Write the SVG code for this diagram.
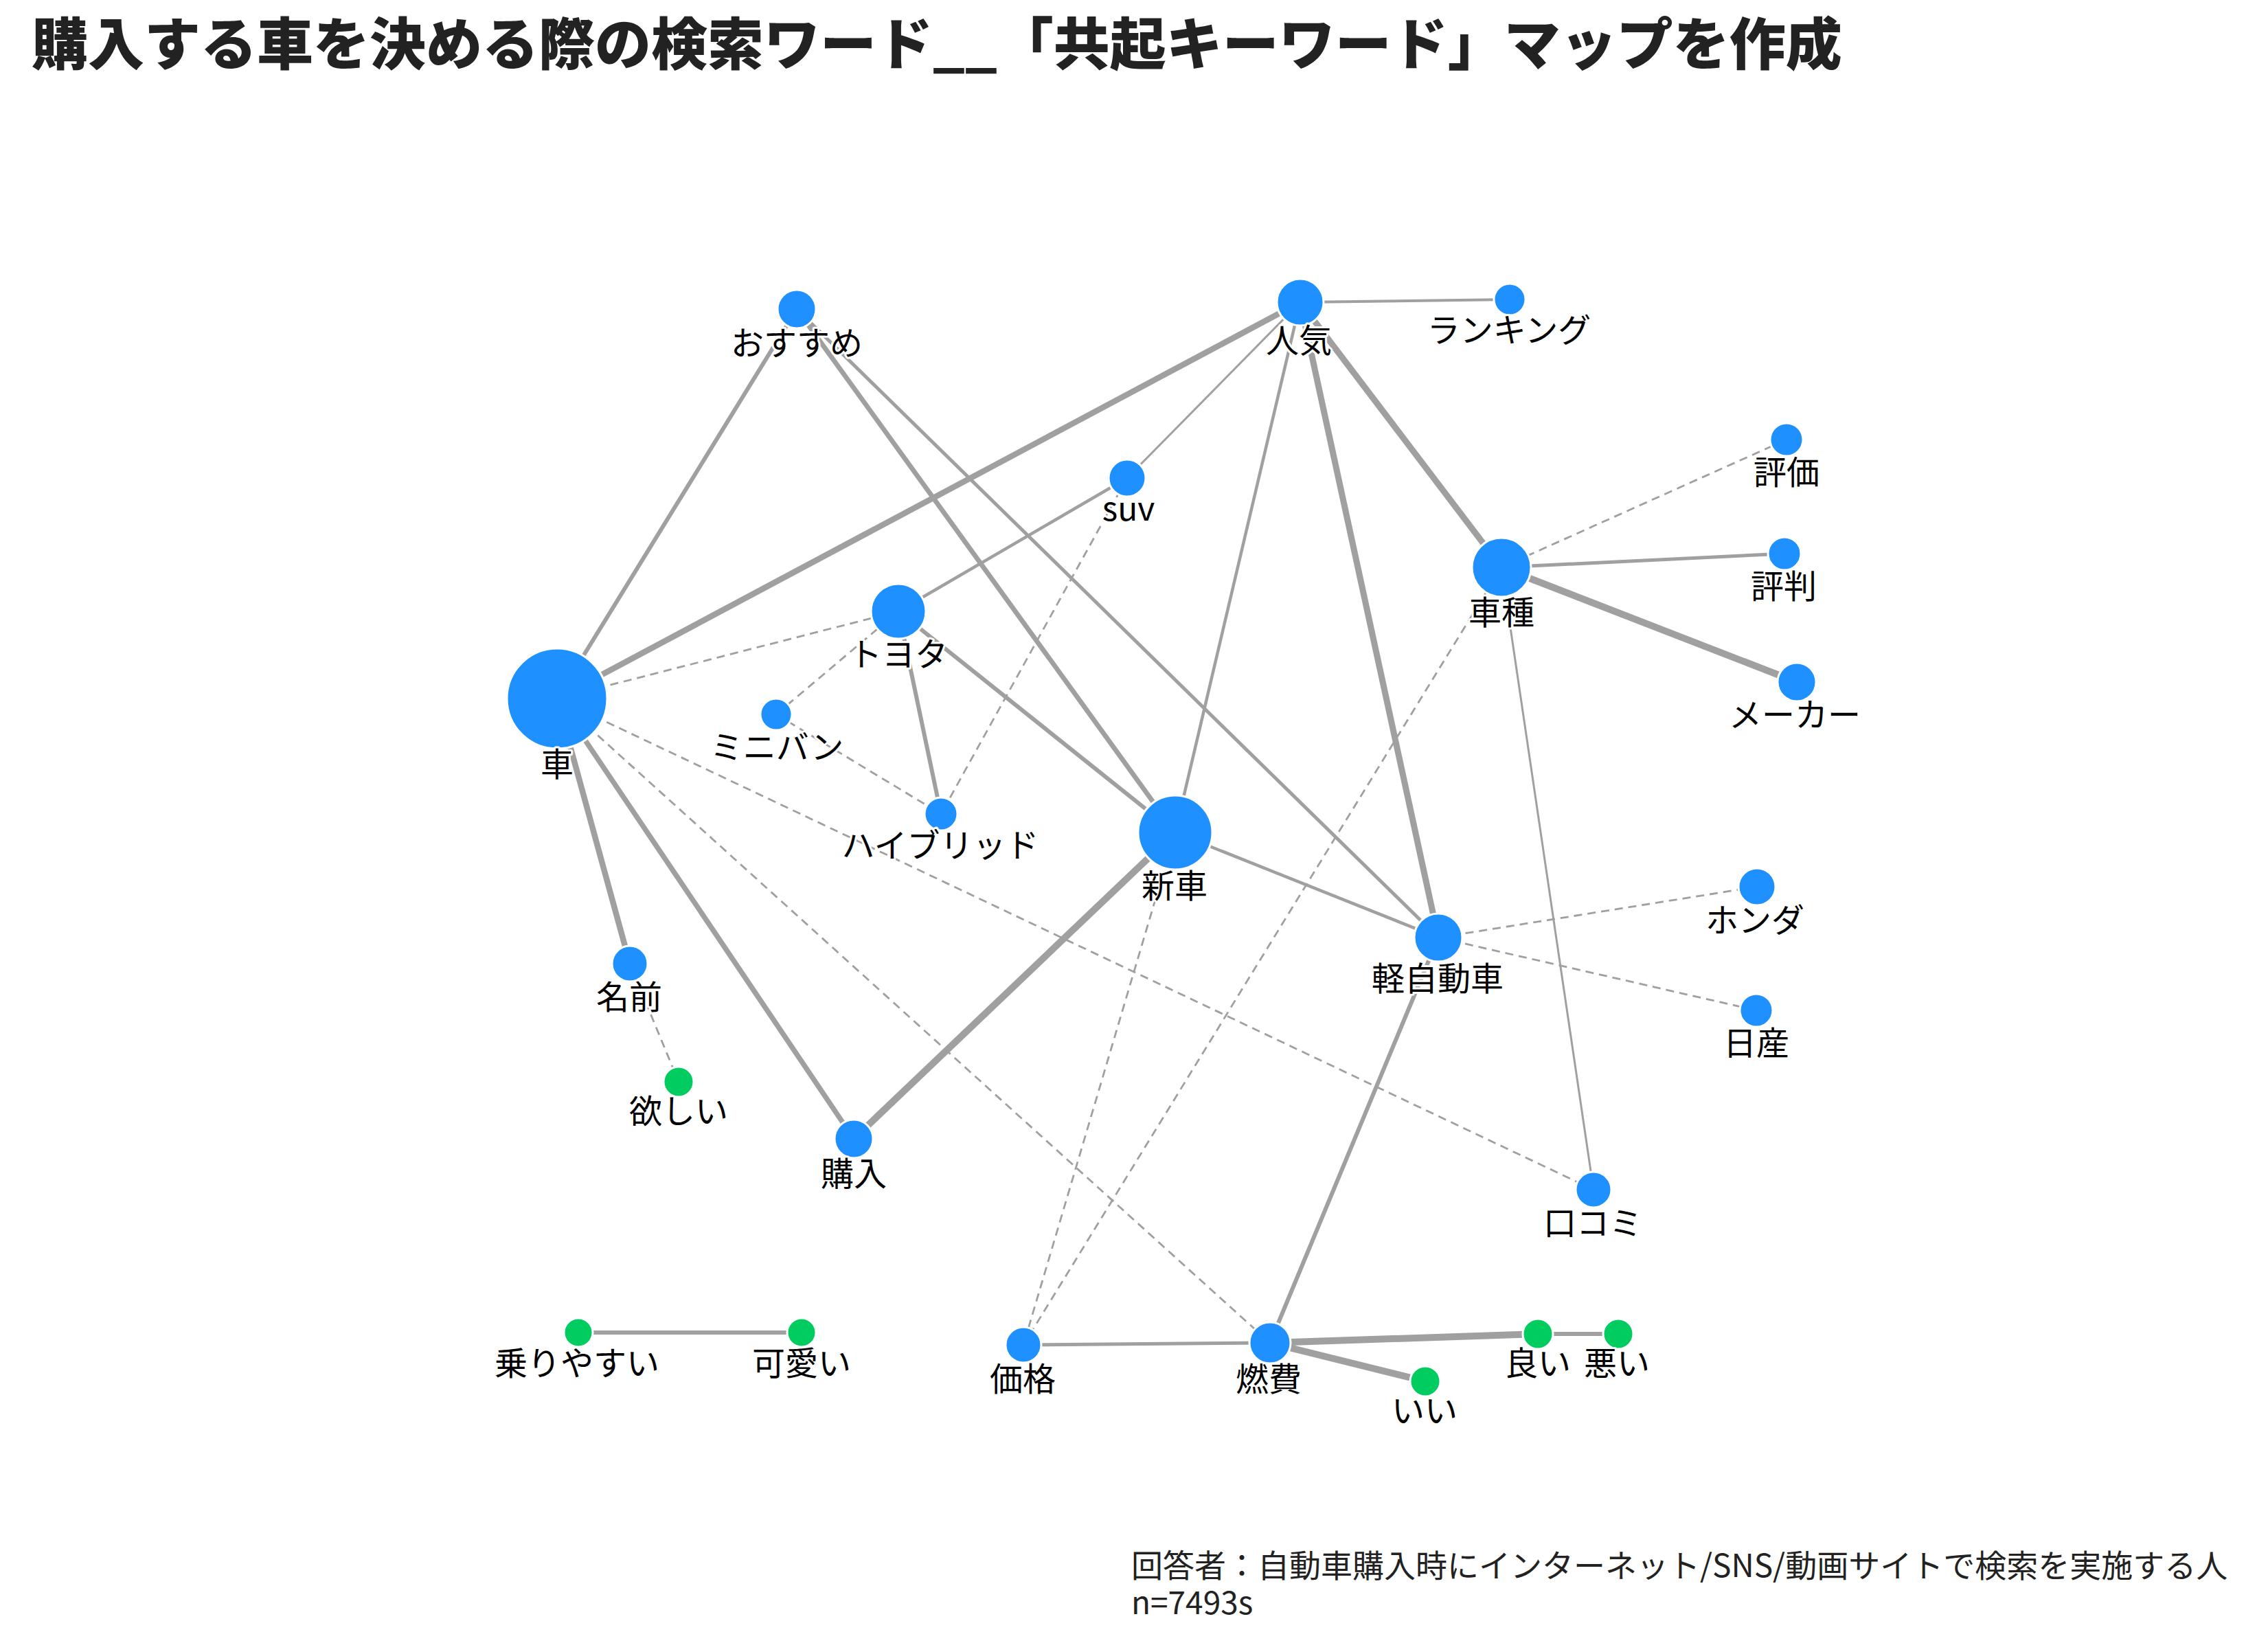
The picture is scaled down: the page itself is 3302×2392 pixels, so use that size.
<svg xmlns="http://www.w3.org/2000/svg" width="3302" height="2392" viewBox="0 0 3302 2392">
<style>
.e{stroke:#A0A0A0;fill:none;stroke-linecap:butt}
.d{stroke:#A0A0A0;fill:none;stroke-width:2.8;stroke-dasharray:12 8}
.b{fill:#1E90FF;stroke:#FFFFFF;stroke-width:3}
.g{fill:#00CC5F;stroke:#FFFFFF;stroke-width:3}
.l{font-family:"Noto Sans CJK JP","Noto Sans",sans-serif;font-size:48px;fill:#000000;text-anchor:middle;stroke:#FFFFFF;stroke-width:6;paint-order:stroke;stroke-linejoin:round}
.t{font-family:"Noto Sans CJK JP","Noto Sans",sans-serif;font-size:82px;font-weight:900;fill:#222222}
.f{font-family:"Noto Sans CJK JP","Noto Sans",sans-serif;font-size:46px;fill:#222222}
</style>
<rect width="3302" height="2392" fill="#FFFFFF"/>
<text class="t" x="46" y="94">購入する車を決める際の検索ワード__「共起キーワード」マップを作成</text>
<g id="edges">
<line class="e" x1="811" y1="1017" x2="1160" y2="450" stroke-width="6"/>
<line class="e" x1="811" y1="1017" x2="1893" y2="440" stroke-width="8.5"/>
<line class="e" x1="811" y1="1017" x2="917" y2="1403" stroke-width="8.5"/>
<line class="e" x1="811" y1="1017" x2="1243" y2="1658" stroke-width="7.5"/>
<line class="e" x1="1243" y1="1658" x2="1711" y2="1212" stroke-width="10"/>
<line class="e" x1="1160" y1="450" x2="1711" y2="1212" stroke-width="7"/>
<line class="e" x1="1160" y1="450" x2="2094" y2="1365" stroke-width="5"/>
<line class="e" x1="1893" y1="440" x2="2198" y2="436" stroke-width="4"/>
<line class="e" x1="1893" y1="440" x2="1641" y2="696" stroke-width="3"/>
<line class="e" x1="1893" y1="440" x2="1711" y2="1212" stroke-width="4.5"/>
<line class="e" x1="1893" y1="440" x2="2094" y2="1365" stroke-width="9"/>
<line class="e" x1="1893" y1="440" x2="2186" y2="826" stroke-width="9"/>
<line class="e" x1="1641" y1="696" x2="1308" y2="890" stroke-width="4.5"/>
<line class="e" x1="1308" y1="890" x2="1370" y2="1185" stroke-width="6"/>
<line class="e" x1="1308" y1="890" x2="1711" y2="1212" stroke-width="6"/>
<line class="e" x1="2186" y1="826" x2="2598" y2="806" stroke-width="5"/>
<line class="e" x1="2186" y1="826" x2="2616" y2="993" stroke-width="10"/>
<line class="e" x1="2186" y1="826" x2="2320" y2="1732" stroke-width="3"/>
<line class="e" x1="1711" y1="1212" x2="2094" y2="1365" stroke-width="4.5"/>
<line class="e" x1="2094" y1="1365" x2="1849" y2="1955" stroke-width="6"/>
<line class="e" x1="1490" y1="1958" x2="1849" y2="1955" stroke-width="5"/>
<line class="e" x1="1849" y1="1955" x2="2239" y2="1942" stroke-width="10"/>
<line class="e" x1="1849" y1="1955" x2="2075" y2="2011" stroke-width="10"/>
<line class="e" x1="2239" y1="1942" x2="2356" y2="1942" stroke-width="6"/>
<line class="e" x1="842" y1="1940" x2="1167" y2="1940" stroke-width="6"/>
<line class="d" x1="811" y1="1017" x2="1308" y2="890"/>
<line class="d" x1="811" y1="1017" x2="2320" y2="1732"/>
<line class="d" x1="811" y1="1017" x2="1849" y2="1955"/>
<line class="d" x1="1308" y1="890" x2="1130" y2="1040"/>
<line class="d" x1="1130" y1="1040" x2="1370" y2="1185"/>
<line class="d" x1="1641" y1="696" x2="1370" y2="1185"/>
<line class="d" x1="1711" y1="1212" x2="1490" y2="1958"/>
<line class="d" x1="2186" y1="826" x2="1490" y2="1958"/>
<line class="d" x1="2186" y1="826" x2="2601" y2="640"/>
<line class="d" x1="2094" y1="1365" x2="2558" y2="1291"/>
<line class="d" x1="2094" y1="1365" x2="2557" y2="1471"/>
<line class="d" x1="917" y1="1403" x2="988" y2="1575"/>
</g>
<g id="n-kuruma"><circle class="b" cx="811" cy="1017" r="73"/><text class="l" x="811" y="1130">車</text></g>
<g id="n-osusume"><circle class="b" cx="1160" cy="450" r="28"/><text class="l" x="1160" y="517">おすすめ</text></g>
<g id="n-ninki"><circle class="b" cx="1893" cy="440" r="34"/><text class="l" x="1891" y="513">人気</text></g>
<g id="n-ranking"><circle class="b" cx="2198" cy="436" r="23"/><text class="l" x="2197" y="498">ランキング</text></g>
<g id="n-suv"><circle class="b" cx="1641" cy="696" r="27"/><text class="l" x="1643" y="758">suv</text></g>
<g id="n-hyouka"><circle class="b" cx="2601" cy="640" r="24"/><text class="l" x="2601" y="705">評価</text></g>
<g id="n-hyouban"><circle class="b" cx="2598" cy="806" r="24"/><text class="l" x="2597" y="871">評判</text></g>
<g id="n-shashu"><circle class="b" cx="2186" cy="826" r="43"/><text class="l" x="2186" y="909">車種</text></g>
<g id="n-maker"><circle class="b" cx="2616" cy="993" r="28"/><text class="l" x="2613" y="1058">メーカー</text></g>
<g id="n-toyota"><circle class="b" cx="1308" cy="890" r="40"/><text class="l" x="1308" y="970">トヨタ</text></g>
<g id="n-minivan"><circle class="b" cx="1130" cy="1040" r="23"/><text class="l" x="1131" y="1105">ミニバン</text></g>
<g id="n-hybrid"><circle class="b" cx="1370" cy="1185" r="24"/><text class="l" x="1369" y="1248">ハイブリッド</text></g>
<g id="n-shinsha"><circle class="b" cx="1711" cy="1212" r="54"/><text class="l" x="1710" y="1307">新車</text></g>
<g id="n-keijidousha"><circle class="b" cx="2094" cy="1365" r="35"/><text class="l" x="2093" y="1442">軽自動車</text></g>
<g id="n-honda"><circle class="b" cx="2558" cy="1291" r="27"/><text class="l" x="2555" y="1357">ホンダ</text></g>
<g id="n-nissan"><circle class="b" cx="2557" cy="1471" r="24"/><text class="l" x="2557" y="1536">日産</text></g>
<g id="n-namae"><circle class="b" cx="917" cy="1403" r="26"/><text class="l" x="916" y="1469">名前</text></g>
<g id="n-hoshii"><circle class="g" cx="988" cy="1575" r="22"/><text class="l" x="988" y="1635">欲しい</text></g>
<g id="n-kounyuu"><circle class="b" cx="1243" cy="1658" r="28"/><text class="l" x="1243" y="1726">購入</text></g>
<g id="n-kuchikomi"><circle class="b" cx="2320" cy="1732" r="26"/><text class="l" x="2319" y="1798">口コミ</text></g>
<g id="n-noriyasui"><circle class="g" cx="842" cy="1940" r="21"/><text class="l" x="840" y="2002">乗りやすい</text></g>
<g id="n-kawaii"><circle class="g" cx="1167" cy="1940" r="21"/><text class="l" x="1167" y="2002">可愛い</text></g>
<g id="n-kakaku"><circle class="b" cx="1490" cy="1958" r="26"/><text class="l" x="1489" y="2025">価格</text></g>
<g id="n-nenpi"><circle class="b" cx="1849" cy="1955" r="30"/><text class="l" x="1847" y="2025">燃費</text></g>
<g id="n-ii"><circle class="g" cx="2075" cy="2011" r="22"/><text class="l" x="2074" y="2071">いい</text></g>
<g id="n-yoi"><circle class="g" cx="2239" cy="1942" r="22"/><text class="l" x="2239" y="2002">良い</text></g>
<g id="n-warui"><circle class="g" cx="2356" cy="1942" r="22"/><text class="l" x="2354" y="2002">悪い</text></g>
<text class="f" x="1647" y="2296">回答者：自動車購入時にインターネット/SNS/動画サイトで検索を実施する人</text>
<text class="f" x="1647" y="2350">n=7493s</text>
</svg>
